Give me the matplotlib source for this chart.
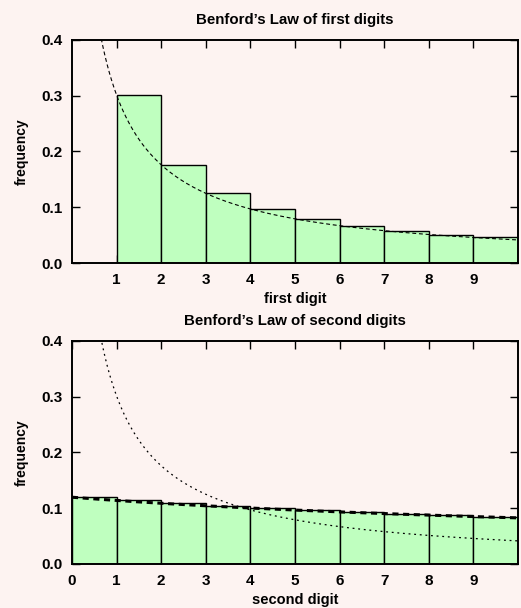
import numpy as np
import matplotlib.pyplot as plt

# bar heights
first_digits = [1, 2, 3, 4, 5, 6, 7, 8, 9]
first_freq = [0.301, 0.176, 0.125, 0.097, 0.079, 0.067, 0.058, 0.051, 0.046]
second_digits = [0, 1, 2, 3, 4, 5, 6, 7, 8, 9]
second_freq = [0.120, 0.114, 0.109, 0.104, 0.100, 0.097, 0.093, 0.090, 0.088, 0.085]


def benford_first(x):
    return np.log10(1 + 1 / x)


def benford_second(x):
    return sum(np.log10(1 + 1 / (10 * k + x)) for k in range(1, 10))


plt.rcParams['font.family'] = ['Liberation Sans', 'DejaVu Sans']
plt.rcParams['font.weight'] = 'bold'

bg = '#fdf3f1'
bar_color = '#bfffbf'

fig = plt.figure(figsize=(5.21, 6.08), dpi=100, facecolor=bg)
ax1 = fig.add_axes([0.1382, 0.5674, 0.856, 0.367])
ax2 = fig.add_axes([0.1382, 0.0724, 0.856, 0.367])


def style(ax, xticks):
    ax.set_facecolor(bg)
    ax.set_xlim(0, 10)
    ax.set_ylim(0, 0.4)
    ax.set_xticks(xticks)
    ax.set_yticks([0.0, 0.1, 0.2, 0.3, 0.4])
    ax.yaxis.set_major_formatter(plt.FormatStrFormatter('%.1f'))
    ax.tick_params(direction='in', length=6, width=1, top=True, right=True,
                   labelsize=11, pad=7)
    for s in ax.spines.values():
        s.set_linewidth(1.4)
    ax.set_ylabel('frequency', fontweight='bold', fontsize=10, labelpad=9)


# first digits
ax1.bar(first_digits, first_freq, width=1, align='edge', color=bar_color,
        edgecolor='black', linewidth=1, zorder=2)
x = np.linspace(0.6, 10, 400)
ax1.plot(x, benford_first(x), color='black', lw=0.8, ls=(0, (3.5, 2.5)), zorder=3)
style(ax1, first_digits)
ax1.set_title("Benford\u2019s Law of first digits", fontweight='bold', fontsize=10.8, pad=11.5)
ax1.set_xlabel('first digit', fontweight='bold', fontsize=10.5, labelpad=4)

# second digits
ax2.bar(second_digits, second_freq, width=1, align='edge', color=bar_color,
        edgecolor='black', linewidth=1, zorder=2)
x2 = np.linspace(0, 10, 400)
ax2.plot(x2, benford_second(x2), color='black', lw=2.2, ls=(0, (2, 1.5)), zorder=3)
ax2.plot(x, benford_first(x), color='black', lw=0.9, ls=(0, (1.5, 3)), zorder=3)
style(ax2, second_digits)
ax2.set_title("Benford\u2019s Law of second digits", fontweight='bold', fontsize=10.8, pad=11.5)
ax2.set_xlabel('second digit', fontweight='bold', fontsize=10.5, labelpad=4)

fig.savefig('out.png', dpi=100, facecolor=bg)
